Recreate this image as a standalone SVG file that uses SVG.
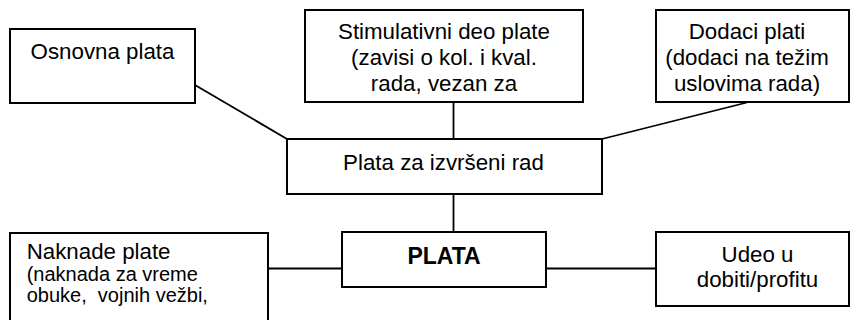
<svg xmlns="http://www.w3.org/2000/svg" width="850" height="320" viewBox="0 0 850 320">
<style>
.box{fill:#fff;stroke:#000;stroke-width:2}
.ln{stroke:#000;stroke-width:1.8;fill:none}
text{font-family:"Liberation Sans",Arial,sans-serif;font-size:22.3px;fill:#000}
.c{text-anchor:middle}
.s{font-size:20px;white-space:pre}
.b{font-weight:bold;font-size:23px}
</style>
<rect width="850" height="320" fill="#fff"/>
<g id="connectors">
<line class="ln" x1="195" y1="85" x2="287" y2="139"/>
<line class="ln" x1="453.5" y1="102" x2="453.5" y2="139"/>
<line class="ln" x1="747" y1="102.5" x2="602" y2="139"/>
<line class="ln" x1="453.5" y1="194" x2="453.5" y2="232"/>
<line class="ln" x1="268" y1="268.5" x2="342" y2="268.5"/>
<line class="ln" x1="546" y1="268.5" x2="656" y2="268.5"/>
</g>
<g id="osnovna">
<rect class="box" x="10" y="29" width="185" height="74"/>
<text class="c" x="102.5" y="59">Osnovna plata</text>
</g>
<g id="stimulativni">
<rect class="box" x="305" y="10" width="278" height="92"/>
<text class="c" x="444" y="39">Stimulativni deo plate</text>
<text class="c" x="444" y="65">(zavisi o kol. i kval.</text>
<text class="c" x="444" y="91">rada, vezan za</text>
</g>
<g id="dodaci">
<rect class="box" x="656" y="10" width="193" height="92"/>
<text class="c" x="747" y="39">Dodaci plati</text>
<text class="c" x="747" y="65">(dodaci na težim</text>
<text class="c" x="747" y="91">uslovima rada)</text>
</g>
<g id="izvrseni">
<rect class="box" x="287" y="139" width="315" height="55"/>
<text class="c" x="443.5" y="169.5">Plata za izvršeni rad</text>
</g>
<g id="plata">
<rect class="box" x="342" y="232" width="204" height="55"/>
<text class="c b" x="444" y="264">PLATA</text>
</g>
<g id="naknade">
<rect class="box" x="10" y="233" width="258" height="110"/>
<text x="26.7" y="259.3">Naknade plate</text>
<text class="s" x="26.7" y="281">(naknada za vreme</text>
<text class="s" x="26.7" y="301.7" xml:space="preserve">obuke,  vojnih vežbi,</text>
</g>
<g id="udeo">
<rect class="box" x="656" y="232" width="193" height="74"/>
<text class="c" x="757.5" y="261.7">Udeo u</text>
<text class="c" x="757.5" y="286.7">dobiti/profitu</text>
</g>
</svg>
